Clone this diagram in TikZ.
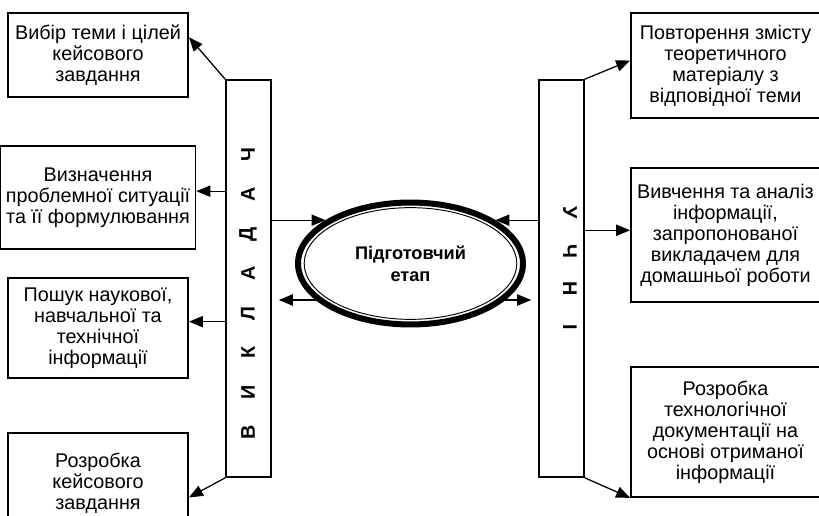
\documentclass[tikz,border=0pt]{standalone}
\usepackage{fontspec}
\setmainfont{Liberation Sans}
\usetikzlibrary{shapes.geometric,arrows.meta}

\begin{document}
\begin{tikzpicture}[x=0.0222cm, y=-0.0222cm]

\tikzstyle{lbox}=[rectangle, draw, line width=1.1pt, align=center, minimum width=4cm, font=\fontsize{12.5}{13.3}\selectfont]
\tikzstyle{rbox}=[lbox, minimum width=4.196cm]
\tikzstyle{bar}=[rectangle, draw, line width=1.1pt, minimum width=0.999cm, minimum height=8.813cm]
\tikzstyle{letter}=[font=\bfseries\fontsize{12.5}{14}\selectfont, inner sep=0pt]
\tikzstyle{arrow}=[-{Triangle[length=3.1mm,width=2.5mm]}, line width=0.8pt]
\tikzstyle{biarrow}=[{Triangle[length=3.1mm,width=2.5mm]}-{Triangle[length=3.1mm,width=2.5mm]}, line width=0.8pt, shorten >=4.4pt, shorten <=4.4pt]
\tikzstyle{stage}=[ellipse, draw, fill=white, line width=3.8pt, minimum width=4.995cm, minimum height=2.708cm, align=center, font=\bfseries\fontsize{11.5}{14}\selectfont]
\tikzstyle{stagein}=[ellipse, draw, line width=0.6pt, minimum width=4.72cm, minimum height=2.48cm]

\useasboundingbox (0,0) rectangle (819,516);
\clip (0,0) rectangle (819,516);

% teacher and students
\node (vbar) [bar] at (248.5,278.5) {};
\node (ubar) [bar] at (561.5,278.5) {};
\foreach \ch [count=\i] in {В,И,К,Л,А,Д,А,Ч}
  \node (v\i) [letter, rotate=90] at (248,471.6-\i*39.6) {\ch};
\foreach \ch [count=\i] in {У,Ч,Н,І}
  \node (u\i) [letter, rotate=-90] at (570,175+\i*38) {\ch};

% left column
\node (task) [lbox, minimum height=1.865cm] at (98,55) {Вибір теми і цілей\\ кейсового\\ завдання};
\node (problem) [lbox, minimum height=2.287cm] at (98,197.5) {Визначення\\ проблемної ситуації\\ та її формулювання};
\node (search) [lbox, minimum height=2.22cm] at (98,328) {Пошук наукової,\\ навчальної та\\ технічної\\ інформації};
\node (design) [lbox, minimum height=2.22cm] at (98,483) {Розробка\\ кейсового\\ завдання};

% right column
\node (repeat) [rbox, minimum height=2.331cm] at (725.5,65.5) {Повторення змісту\\ теоретичного\\ матеріалу з\\ відповідної теми};
\node (study) [rbox, minimum height=2.975cm] at (725.5,235) {Вивчення та аналіз\\ інформації,\\ запропонованої\\ викладачем для\\ домашньої роботи};
\node (docs) [rbox, minimum height=2.886cm] at (725.5,432) {Розробка\\ технологічної\\ документації на\\ основі отриманої\\ інформації};

% centre
\coordinate (low) at (410,300);
\draw[biarrow] (vbar.east |- low) -- (ubar.west |- low);
\node (etap) [stage] at (410.5,263.5) {Підготовчий\\ етап};
\node (etapin) [stagein] at (etap.center) {};
\draw[arrow] (vbar.east |- etap.153) -- (etap.153);
\draw[arrow] (ubar.west |- etap.27) -- (etap.27);

% arrows to the boxes
\coordinate (p2) at ([yshift=4pt]problem.east);
\coordinate (p3) at ([yshift=4pt]search.east);
\coordinate (q2) at ([yshift=3pt]study.west);
\draw[arrow] (vbar.north west) -- (task.11);
\draw[arrow] (vbar.west |- p2) -- (p2);
\draw[arrow] (vbar.west |- p3) -- (p3);
\draw[arrow] (vbar.south west) -- (design.351);
\draw[arrow] (ubar.north east) -- (repeat.177);
\draw[arrow] (ubar.east |- q2) -- (q2);
\draw[arrow] (ubar.south east) -- (docs.south west);
\end{tikzpicture}
\end{document}
